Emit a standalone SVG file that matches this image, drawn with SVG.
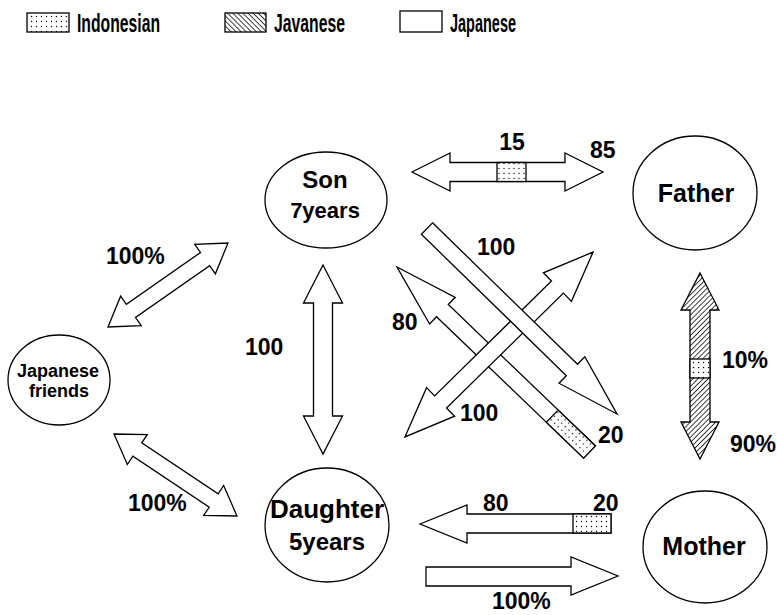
<svg xmlns="http://www.w3.org/2000/svg" width="777" height="615" viewBox="0 0 777 615">
<defs>
<pattern id="dots" width="5" height="5" patternUnits="userSpaceOnUse"><rect width="5" height="5" fill="#fff"/><circle cx="1.5" cy="1.5" r="0.7" fill="#000"/></pattern>
<pattern id="hatch" width="3.6" height="3.6" patternUnits="userSpaceOnUse" patternTransform="rotate(-45)"><rect width="3.6" height="3.6" fill="#fff"/><line x1="0" y1="0" x2="0" y2="3.6" stroke="#000" stroke-width="1.5"/></pattern>
</defs>
<style>
.ln{stroke:#000;stroke-width:1.3;stroke-linejoin:miter}
.wh{fill:#fff}
.dt{fill:url(#dots)}
.ht{fill:url(#hatch)}
.nd{fill:#fff;stroke:#000;stroke-width:1.3}
text{font-family:"Liberation Sans",Arial,sans-serif;font-weight:bold;fill:#000}
.lb{font-size:23px}
.c{text-anchor:middle}
.lg{font-size:25px}
</style>
<rect width="777" height="615" fill="#fff"/>
<g id="legend">
<rect x="27" y="13" width="42" height="19" class="ln dt"/>
<text class="lg" x="77" y="32" textLength="83" lengthAdjust="spacingAndGlyphs">Indonesian</text>
<rect x="225" y="13" width="41" height="19" class="ln ht"/>
<text class="lg" x="274" y="32" textLength="71" lengthAdjust="spacingAndGlyphs">Javanese</text>
<rect x="400" y="11" width="42" height="21" class="ln wh"/>
<text class="lg" x="450" y="32" textLength="66" lengthAdjust="spacingAndGlyphs">Japanese</text>
</g>
<g id="connectors">
<!-- Son - Father -->
<g transform="translate(507.5,172)">
<polygon class="ln wh" points="-95.5,0 -57.5,-19 -57.5,-9.5 57.5,-9.5 57.5,-19 95.5,0 57.5,19 57.5,9.5 -57.5,9.5 -57.5,19"/>
<rect x="-10.5" y="-9.5" width="29" height="19" class="ln dt"/>
</g>
<!-- Son - Daughter -->
<g transform="translate(323,359.5) rotate(90)">
<polygon class="ln wh" points="-94.5,0 -56.5,-19.5 -56.5,-9.5 56.5,-9.5 56.5,-19.5 94.5,0 56.5,19.5 56.5,9.5 -56.5,9.5 -56.5,19.5"/>
</g>
<!-- Japanese friends - Son -->
<g transform="translate(168,285) rotate(-35)">
<polygon class="ln wh" points="-73.25,0 -45.25,-18 -45.25,-8 45.25,-8 45.25,-18 73.25,0 45.25,18 45.25,8 -45.25,8 -45.25,18"/>
</g>
<!-- Japanese friends - Daughter -->
<g transform="translate(175.5,475) rotate(33.7)">
<polygon class="ln wh" points="-73.9,0 -45.9,-18 -45.9,-8 45.9,-8 45.9,-18 73.9,0 45.9,18 45.9,8 -45.9,8 -45.9,18"/>
</g>
<!-- Mother - Son (80/20) -->
<g transform="translate(493.25,359.5) rotate(-136.14)">
<polygon class="ln wh" points="-133.5,-8.5 70.5,-8.5 70.5,-18.5 133.5,0 70.5,18.5 70.5,8.5 -133.5,8.5"/>
<rect x="-133.5" y="-8.5" width="51.7" height="17" class="ln dt"/>
</g>
<!-- Father - Daughter (100, double) -->
<g transform="translate(499,344.5) rotate(-44.5)">
<polygon class="ln wh" points="-131.9,0 -81.9,-20 -81.9,-8.5 81.9,-8.5 81.9,-20 131.9,0 81.9,20 81.9,8.5 -81.9,8.5 -81.9,20"/>
</g>
<!-- Son - Mother (100) -->
<g transform="translate(522,321.25) rotate(44.3)">
<polygon class="ln wh" points="-132.75,-8 69.75,-8 69.75,-18.5 132.75,0 69.75,18.5 69.75,8 -132.75,8"/>
</g>
<!-- Father - Mother -->
<g transform="translate(700,366) rotate(90)">
<polygon class="ln ht" points="-93,0 -56,-19 -56,-10 56,-10 56,-19 93,0 56,19 56,10 -56,10 -56,19"/>
<rect x="-7" y="-10" width="19" height="20" class="ln dt"/>
</g>
<!-- Mother - Daughter -->
<polygon class="ln wh" points="420,524 467,505 467,514 611,514 611,533 467,533 467,543"/>
<rect x="573" y="514" width="38" height="19" class="ln dt"/>
<!-- Daughter - Mother -->
<polygon class="ln wh" points="426,567 571,567 571,557 618,576 571,595 571,586 426,586"/>
</g>
<g id="labels">
<text class="lb c" x="512" y="150">15</text>
<text class="lb" x="590" y="158">85</text>
<text class="lb" x="106" y="264">100%</text>
<text class="lb" x="245" y="355">100</text>
<text class="lb" x="128" y="511">100%</text>
<text class="lb" x="477" y="255">100</text>
<text class="lb" x="392" y="330">80</text>
<text class="lb" x="460" y="421">100</text>
<text class="lb" x="598" y="443">20</text>
<text class="lb" x="722" y="368">10%</text>
<text class="lb" x="730" y="452">90%</text>
<text class="lb" x="483" y="511">80</text>
<text class="lb" x="593" y="511">20</text>
<text class="lb" x="492" y="609">100%</text>
</g>
<g id="son">
<ellipse cx="326" cy="200" rx="61" ry="48" class="nd"/>
<text class="c" x="325" y="188" font-size="24">Son</text>
<text class="c" x="325" y="218" font-size="22">7years</text>
</g>
<g id="father">
<ellipse cx="695" cy="193" rx="62" ry="57" class="nd"/>
<text class="c" x="696" y="202" font-size="25">Father</text>
</g>
<g id="japanese-friends">
<ellipse cx="59" cy="380" rx="51" ry="45" class="nd"/>
<text class="c" x="58" y="377" font-size="18">Japanese</text>
<text class="c" x="59" y="397" font-size="18">friends</text>
</g>
<g id="daughter">
<ellipse cx="327" cy="525" rx="62" ry="57" class="nd"/>
<text class="c" x="327" y="518" font-size="26">Daughter</text>
<text class="c" x="327" y="550" font-size="24">5years</text>
</g>
<g id="mother">
<ellipse cx="705" cy="547" rx="62" ry="56" class="nd"/>
<text class="c" x="704" y="555" font-size="25">Mother</text>
</g>
</svg>
